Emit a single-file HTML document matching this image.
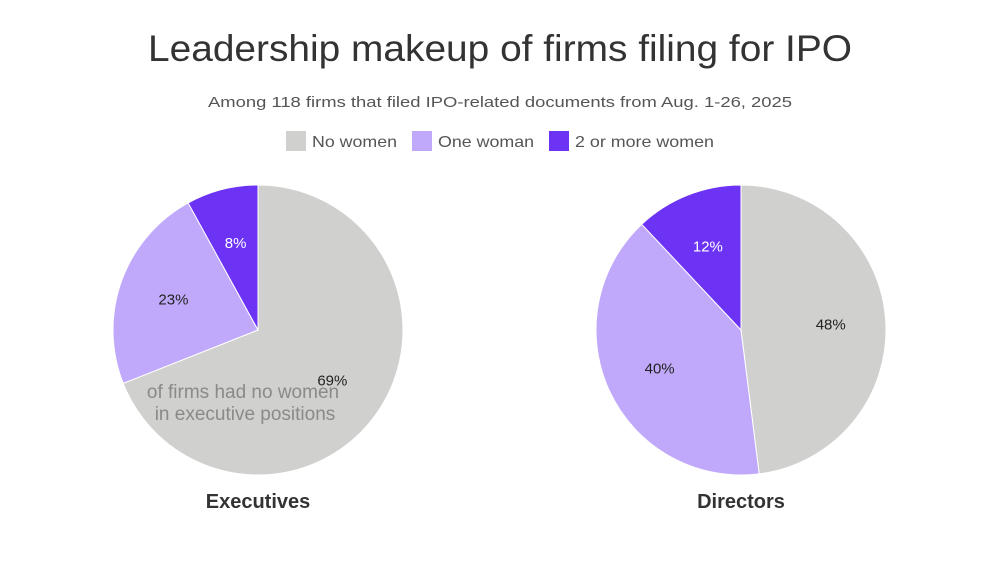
<!DOCTYPE html>
<html><head><meta charset="utf-8"><style>
body{margin:0;background:#fff;width:1000px;height:562px;overflow:hidden;font-family:"Liberation Sans",sans-serif}
</style></head><body>
<svg width="1000" height="562" font-family="Liberation Sans, sans-serif">
<text x="500" y="61" text-anchor="middle" font-size="37" fill="#333" textLength="704" lengthAdjust="spacingAndGlyphs">Leadership makeup of firms filing for IPO</text>
<text x="500" y="107" text-anchor="middle" font-size="15" fill="#555" textLength="584" lengthAdjust="spacingAndGlyphs">Among 118 firms that filed IPO-related documents from Aug. 1-26, 2025</text>
<g>
<rect x="286" y="131" width="20" height="20" fill="#d0d0ce"/>
<text x="312" y="147" font-size="16" fill="#555" textLength="85" lengthAdjust="spacingAndGlyphs">No women</text>
<rect x="412" y="131" width="20" height="20" fill="#c0a9fb"/>
<text x="438" y="147" font-size="16" fill="#555" textLength="96" lengthAdjust="spacingAndGlyphs">One woman</text>
<rect x="549" y="131" width="20" height="20" fill="#6c33f5"/>
<text x="575" y="147" font-size="16" fill="#555" textLength="139" lengthAdjust="spacingAndGlyphs">2 or more women</text>
</g>
<g id="pies"></g>
<text x="243" y="398" text-anchor="middle" font-size="19" fill="#8a8a8a">of firms had no women</text>
<text x="245" y="420" text-anchor="middle" font-size="19" fill="#8a8a8a">in executive positions</text>
<text x="258" y="508" text-anchor="middle" font-size="20" font-weight="bold" fill="#333">Executives</text>
<text x="741" y="508" text-anchor="middle" font-size="20" font-weight="bold" fill="#333">Directors</text>
</svg>
<script>
const categories = ["No women", "One woman", "2 or more women"];
const executivesValues = [69, 23, 8];
const directorsValues = [48, 40, 12];
const colors = ["#d0d0ce", "#c0a9fb", "#6c33f5"];
const labelColors = ["#222", "#222", "#fff"];
const NS = "http://www.w3.org/2000/svg";
const g = document.getElementById("pies");
function drawPie(name, values, cx, cy, r) {
  const total = values.reduce((a, b) => a + b, 0);
  let acc = 0;
  values.forEach((v, i) => {
    const a0 = acc / total * 2 * Math.PI; acc += v;
    const a1 = acc / total * 2 * Math.PI;
    const x0 = cx + r * Math.sin(a0), y0 = cy - r * Math.cos(a0);
    const x1 = cx + r * Math.sin(a1), y1 = cy - r * Math.cos(a1);
    const large = (a1 - a0) > Math.PI ? 1 : 0;
    const p = document.createElementNS(NS, "path");
    p.setAttribute("d", `M${cx},${cy} L${x0},${y0} A${r},${r} 0 ${large} 1 ${x1},${y1} Z`);
    p.setAttribute("fill", colors[i]);
    p.setAttribute("stroke", "#fff");
    p.setAttribute("stroke-width", "1");
    
    
    g.appendChild(p);
    const am = (a0 + a1) / 2, lr = r * 0.62;
    const t = document.createElementNS(NS, "text");
    t.setAttribute("x", cx + lr * Math.sin(am));
    t.setAttribute("y", cy - lr * Math.cos(am) + 5);
    t.setAttribute("text-anchor", "middle");
    t.setAttribute("font-size", "15");
    t.setAttribute("fill", labelColors[i]);
    t.textContent = v + "%";
    
    
    g.appendChild(t);
  });
}
drawPie("executives", executivesValues, 258, 330, 145);
drawPie("directors", directorsValues, 741, 330, 145);
</script>
</body></html>
